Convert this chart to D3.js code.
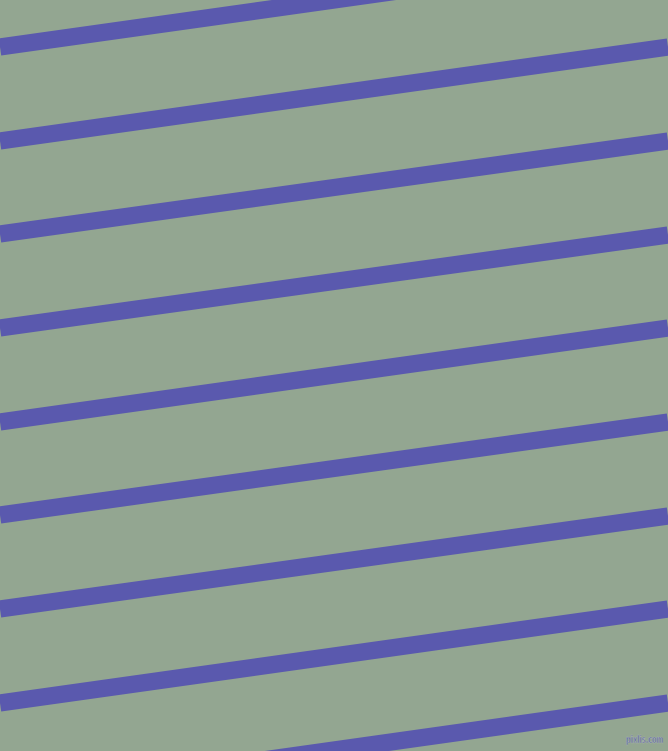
<!DOCTYPE html>
<html>
<head>
<meta charset="utf-8">
<script src="https://cdn.jsdelivr.net/npm/d3@7"></script>
<style>
  html, body { margin: 0; padding: 0; background: #94a592; }
  svg { display: block; }
</style>
</head>
<body>
<svg id="chart"></svg>
<script>
const width = 668, height = 751

// stripe centre heights where each stripe meets the left and right edge
const stripeLeft = [47, 141, 234, 328, 422, 515, 609, 703, 797]
const stripeRight = [-47, 47, 141, 235, 328, 422, 516, 609, 703]
const watermark = "pixlis.com"

const colors = { background: "#93a691", stripe: "#5a59ae" }

const x = d3.scaleLinear().domain([0, 1]).range([0, width])
const y = d3.scaleLinear().domain([0, height]).range([0, height])

const svg = d3.select("svg#chart")
    .attr("width", width)
    .attr("height", height)

svg.append("rect")
    .attr("width", width).attr("height", height)
    .style("fill", colors.background)

const stripes = stripeLeft.map((l, i) => [{ t: 0, v: l }, { t: 1, v: stripeRight[i] }])

const line = d3.line()
    .x(d => x(d.t))
    .y(d => y(d.v))

svg.append("g").attr("id", "stripes")
    .selectAll("path")
    .data(stripes)
    .join("path")
    .attr("d", d => line(d))
    .style("stroke", colors.stripe)
    .style("stroke-width", 17.3)
    .style("fill", "none")

// small site mark, bottom right (narrowed to fit like the original)
svg.append("text")
    .attr("transform", "translate(626,743) scale(0.6,1)")
    .text(watermark)
    .style("font-family", "DejaVu Sans, sans-serif")
    .style("font-size", "11px")
    .style("font-weight", "bold")
    .style("fill", "#5e64aa")
    .style("stroke", "#a9b5ab")
    .style("stroke-width", 0.6)
</script>
</body>
</html>
